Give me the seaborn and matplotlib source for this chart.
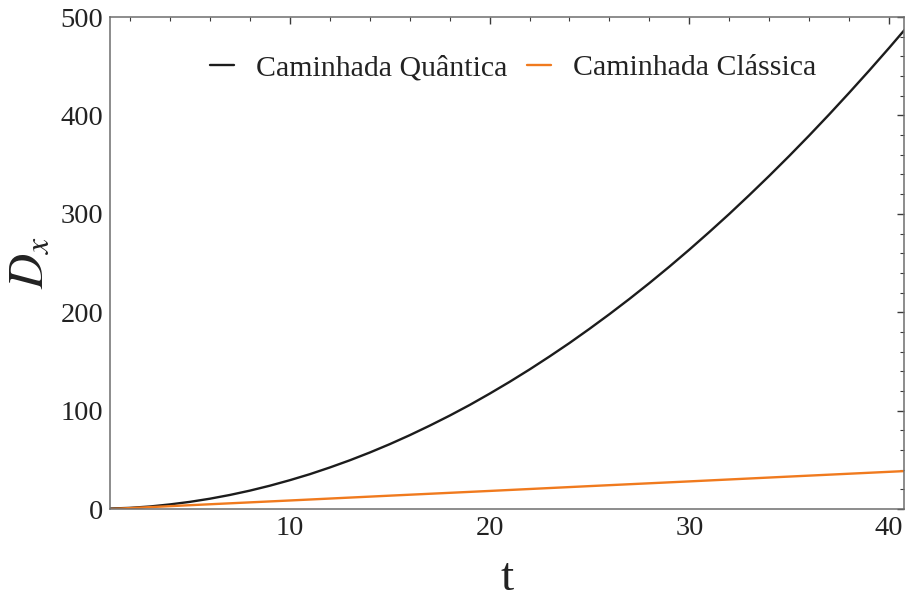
import matplotlib
matplotlib.use("Agg")
import matplotlib.pyplot as plt
from matplotlib.ticker import MultipleLocator
import numpy as np
import pandas as pd
import seaborn as sns

# Dispersion of the quantum walk at each time step
t_quantum = list(range(1, 42))
d_quantum = [0.5, 1.2, 2.6, 4.7, 7.3, 10.5, 14.3, 18.7, 23.7, 29.3,
             35.4, 42.2, 49.5, 57.4, 65.9, 75.0, 84.7, 94.9, 105.7, 117.2,
             129.2, 141.8, 155.0, 168.7, 183.1, 198.0, 213.5, 229.6, 246.3, 263.6,
             281.5, 299.9, 319.0, 338.6, 358.8, 379.6, 401.0, 423.0, 445.5, 468.6,
             492.3]

# Dispersion of the classical walk
t_classic = [1, 5, 10, 15, 20, 25, 30, 35, 41]
d_classic = [0.0, 3.9, 8.7, 13.6, 18.4, 23.3, 28.1, 33.0, 38.8]

label_quantum = "Caminhada Quântica"
label_classic = "Caminhada Clássica"

df = pd.concat([
    pd.DataFrame({"t": t_quantum, "D": d_quantum, "walk": label_quantum}),
    pd.DataFrame({"t": t_classic, "D": d_classic, "walk": label_classic}),
], ignore_index=True)

sns.set_style("white")
plt.rcParams["font.family"] = ["Liberation Serif", "DejaVu Serif"]
plt.rcParams["mathtext.fontset"] = "stix"

fig = plt.figure(figsize=(9.05, 6.01), dpi=100)
ax = fig.add_axes([0.1215, 0.153, 0.8775, 0.8187])

palette = {label_quantum: "#1c1c1c", label_classic: "#f07a1e"}
sns.lineplot(data=df, x="t", y="D", hue="walk", palette=palette,
             linewidth=1.7, ax=ax, legend=True)

ax.set_xlim(1, 40.75)
ax.set_ylim(0, 500)
ax.xaxis.set_major_locator(MultipleLocator(10))
ax.xaxis.set_minor_locator(MultipleLocator(2))
ax.yaxis.set_major_locator(MultipleLocator(100))
ax.yaxis.set_minor_locator(MultipleLocator(20))

frame_color = "#6e6e6e"
for side in ax.spines.values():
    side.set_color(frame_color)
    side.set_linewidth(1.1)

ax.tick_params(which="both", direction="in", top=True, right=True,
               color="#3a3a3a", labelsize=20.5, labelcolor="#222222")
ax.tick_params(which="major", length=4.8, width=1.0, pad=5)
ax.tick_params(which="minor", length=2.8, width=0.8)

ax.set_xlabel("t", fontsize=34, color="#222222", labelpad=12)
ax.set_ylabel("$D_x$", fontsize=35, color="#222222", labelpad=6)

leg = ax.legend(loc="upper center", bbox_to_anchor=(0.508, 0.979), ncol=2,
                frameon=False, fontsize=21.5, handlelength=0.8,
                handletextpad=0.74, columnspacing=0.67)
for line in leg.get_lines():
    line.set_linewidth(1.7)
for text in leg.get_texts():
    text.set_color("#222222")

fig.savefig("out.png", dpi=100)
